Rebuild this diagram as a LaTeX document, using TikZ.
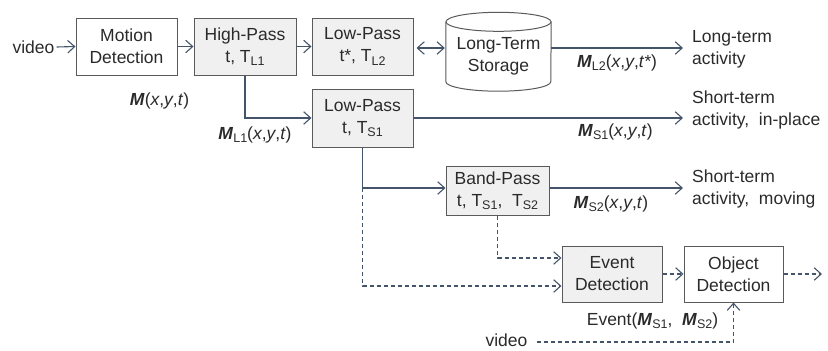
\documentclass[tikz,border=0pt]{standalone}
\usepackage{fontspec}
\setmainfont{Liberation Sans}
\usetikzlibrary{arrows.meta}
\definecolor{linec}{HTML}{44546A}
\definecolor{boxc}{HTML}{5A5A5A}
\definecolor{boxfill}{HTML}{F0F0F0}
\definecolor{txtc}{HTML}{2A2A2A}
% small lowered index text
\newcommand\sbx[1]{\raisebox{-0.35ex}{\fontsize{12.5}{12.5}\selectfont #1}}
% bold italic signal symbol
\newcommand\bM{\textbf{\textit{M}}}
\begin{document}
\begin{tikzpicture}[x=1pt,y=-1pt,
  font=\fontsize{17.5}{22}\selectfont, text=txtc,
  >={Straight Barb[length=7pt,width=12.5pt]},
  blk/.style={draw=boxc, line width=1pt, fill=white, align=center,
              inner sep=0pt, minimum height=57pt},
  shd/.style={blk, fill=boxfill},
  conn/.style={draw=linec, line width=1.1pt, ->},
  dconn/.style={conn, dash pattern=on 4pt off 3pt},
  lbl/.style={inner sep=0pt},
  outtxt/.style={inner sep=0pt, anchor=west, align=left}]
\useasboundingbox (0,0) rectangle (828,351);

% processing blocks
\node[lbl] (vin) at (33.5,47) {video};
\node[blk, minimum width=101pt] (md) at (126.5,46.5) {Motion\\Detection};
\node[shd, minimum width=102pt] (hp) at (245,46.5) {High-Pass\\t, T\sbx{L1}};
\node[shd, minimum width=101pt] (lp2) at (362.5,46.5) {Low-Pass\\t*, T\sbx{L2}};
\node[lbl, align=center, minimum width=105pt, minimum height=69pt] (ls) at (498.5,56.5) {Long-Term\\Storage};
\node[shd, minimum width=101pt, minimum height=58pt] (lp1) at (362.5,118) {Low-Pass\\t, T\sbx{S1}};
\node[shd, minimum width=103pt, minimum height=49pt] (bp) at (497.5,191) {Band-Pass\\t, T\sbx{S1},\ \ T\sbx{S2}};
\node[shd, minimum width=100pt, minimum height=56pt] (ev) at (612,274) {Event\\Detection};
\node[blk, minimum width=99pt, minimum height=56pt] (ob) at (733.5,274) {Object\\Detection};
\node[lbl] (vob) at (506.5,340.5) {video};

% storage cylinder drawn around its text node
\draw[boxc, line width=1pt]
  (ls.north west) -- ([yshift=9.5pt]ls.south west)
  arc[start angle=180, end angle=0, x radius=52.5, y radius=9.5]
  -- (ls.north east);
\draw[boxc, line width=1pt] (ls.north) ellipse [x radius=52.5, y radius=9.5];

% free ends of outputs
\coordinate (lt) at (683,48);
\coordinate (st1) at (683,118);
\coordinate (st2) at (683,188);
\coordinate (j) at (362.5,188);
\coordinate (oe) at (822,274);
\coordinate (vb) at (733.5,342);

% connectors
\draw[conn] ([xshift=2pt]vin.east) -- (md.west);
\draw[conn] (md.east) -- (hp.west);
\draw[conn] (hp.east) -- (lp2.west);
\draw[conn, <->, shorten <=3pt, shorten >=1pt] (lp2.east |- lt) -- (ls.west |- lt);
\draw[conn] (ls.east |- lt) -- (lt);
\draw[conn] (hp.south) |- (lp1.west);
\draw[conn] (lp1.east) -- (st1);
\draw[conn] (lp1.south) -- (j) -- (j -| bp.west);
\draw[conn] (bp.east |- st2) -- (st2);
\draw[dconn] (bp.south) |- ([yshift=16pt]ev.west);
\draw[dconn] (j) |- ([yshift=-12pt]ev.west);
\draw[dconn] (ev.east) -- (ob.west);
\draw[dconn] (ob.east) -- (oe);
\draw[dconn] ([xshift=9pt]vob.east |- vb) -- (vb) -- (ob.south);

% signal labels
\node[lbl] (lm) at (159.5,101) {\bM(\textit{x},\textit{y},\textit{t})};
\node[lbl] (lml1) at (255,135) {\bM\sbx{L1}(\textit{x},\textit{y},\textit{t})};
\node[lbl] (lml2) at (617,63) {\bM\sbx{L2}(\textit{x},\textit{y},\textit{t*})};
\node[lbl] (lms1) at (615.5,132) {\bM\sbx{S1}(\textit{x},\textit{y},\textit{t})};
\node[lbl] (lms2) at (611,204) {\bM\sbx{S2}(\textit{x},\textit{y},\textit{t})};
\node[lbl] (lev) at (652.5,321) {Event(\bM\sbx{S1},\ \ \bM\sbx{S2})};

% output descriptions
\node[outtxt] (olt) at (692,49.5) {Long-term\\activity};
\node[outtxt] (ost1) at (692,109.5) {Short-term\\activity,\ \ in-place};
\node[outtxt] (ost2) at (692,189) {Short-term\\activity,\ \ moving};
\end{tikzpicture}
\end{document}
